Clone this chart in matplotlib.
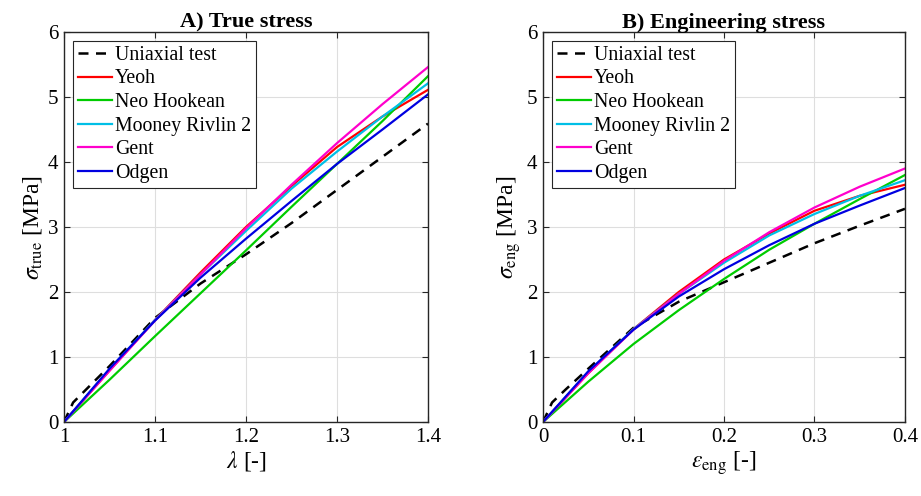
import numpy as np
import matplotlib.pyplot as plt

plt.rcParams['font.family'] = ['Liberation Serif', 'DejaVu Serif']
plt.rcParams['mathtext.fontset'] = 'stix'

# stretch / strain sample points
lam_test = [1.0, 1.01, 1.025, 1.05, 1.1, 1.15, 1.2, 1.25, 1.3, 1.35, 1.4]
eps_test = [0.0, 0.01, 0.025, 0.05, 0.1, 0.15, 0.2, 0.25, 0.3, 0.35, 0.4]
lam_fit = [1.0, 1.05, 1.1, 1.15, 1.2, 1.25, 1.3, 1.35, 1.4]
eps_fit = [0.0, 0.05, 0.1, 0.15, 0.2, 0.25, 0.3, 0.35, 0.4]

# true stress [MPa]
true_test = [0, 0.30, 0.51, 0.86, 1.60, 2.13, 2.58, 3.06, 3.57, 4.08, 4.59]
true_yeoh = [0, 0.79, 1.57, 2.30, 3.00, 3.63, 4.23, 4.70, 5.11]
true_neo = [0, 0.65, 1.32, 1.98, 2.64, 3.31, 3.97, 4.63, 5.32]
true_mooney = [0, 0.81, 1.57, 2.27, 2.94, 3.59, 4.16, 4.70, 5.21]
true_gent = [0, 0.79, 1.56, 2.27, 2.98, 3.65, 4.29, 4.89, 5.46]
true_ogden = [0, 0.82, 1.56, 2.22, 2.82, 3.40, 3.97, 4.50, 5.04]

# engineering stress [MPa]
eng_test = [0, 0.30, 0.50, 0.82, 1.45, 1.85, 2.15, 2.45, 2.75, 3.02, 3.28]
eng_yeoh = [0, 0.75, 1.43, 2.00, 2.50, 2.90, 3.25, 3.48, 3.65]
eng_neo = [0, 0.62, 1.20, 1.72, 2.20, 2.65, 3.05, 3.43, 3.80]
eng_mooney = [0, 0.77, 1.43, 1.97, 2.45, 2.87, 3.20, 3.48, 3.72]
eng_gent = [0, 0.75, 1.42, 1.97, 2.48, 2.92, 3.30, 3.62, 3.90]
eng_ogden = [0, 0.78, 1.42, 1.93, 2.35, 2.72, 3.05, 3.33, 3.60]

names = ['Yeoh', 'Neo Hookean', 'Mooney Rivlin 2', 'Gent', 'Odgen']
colors = ['#ff0000', '#00cc00', '#00bfe6', '#ff00cc', '#0000e0']


def style_axes(ax, xlim, xticks, xticklabels):
    ax.set_xlim(*xlim)
    ax.set_ylim(0, 6)
    ax.set_xticks(xticks)
    ax.set_xticklabels(xticklabels)
    ax.set_yticks(range(7))
    ax.grid(True, color='#dedede', lw=0.8)
    ax.set_axisbelow(True)
    ax.tick_params(direction='in', top=True, right=True, labelsize=15,
                   color='#262626', length=4, pad=4)
    for s in ax.spines.values():
        s.set_color('#262626')
        s.set_linewidth(1.0)


fig = plt.figure(figsize=(9.21, 4.96), dpi=100)
ax1 = fig.add_axes([0.0695, 0.1492, 0.3952, 0.7863])
ax2 = fig.add_axes([0.5896, 0.1492, 0.3930, 0.7863])

ax1.plot(lam_test, true_test, 'k--', lw=1.8, dashes=(4, 3), label='Uniaxial test')
for y, n, c in zip([true_yeoh, true_neo, true_mooney, true_gent, true_ogden], names, colors):
    ax1.plot(lam_fit, y, color=c, lw=1.6, label=n)

ax2.plot(eps_test, eng_test, 'k--', lw=1.8, dashes=(4, 3), label='Uniaxial test')
for y, n, c in zip([eng_yeoh, eng_neo, eng_mooney, eng_gent, eng_ogden], names, colors):
    ax2.plot(eps_fit, y, color=c, lw=1.6, label=n)

style_axes(ax1, (1, 1.4), [1, 1.1, 1.2, 1.3, 1.4], ['1', '1.1', '1.2', '1.3', '1.4'])
style_axes(ax2, (0, 0.4), [0, 0.1, 0.2, 0.3, 0.4], ['0', '0.1', '0.2', '0.3', '0.4'])

ax1.set_title('A) True stress', fontsize=16, fontweight='bold', pad=3)
ax2.set_title('B) Engineering stress', fontsize=16, fontweight='bold', pad=3)
ax1.set_xlabel(r'$\lambda$ [-]', fontsize=17, labelpad=2)
ax2.set_xlabel(r'$\epsilon_{\rm eng}$ [-]', fontsize=17, labelpad=2)
ax1.set_ylabel(r'$\sigma_{\rm true}$ [MPa]', fontsize=17, labelpad=3)
ax2.set_ylabel(r'$\sigma_{\rm eng}$ [MPa]', fontsize=17, labelpad=3)

for ax in (ax1, ax2):
    leg = ax.legend(loc='upper left', fontsize=14.3, fancybox=False, framealpha=1,
                    edgecolor='#262626', borderpad=0.25, labelspacing=0.23,
                    handlelength=1.7, handletextpad=0.15, borderaxespad=0.45)
    leg.get_frame().set_linewidth(0.8)

fig.savefig('out.png', dpi=100)
